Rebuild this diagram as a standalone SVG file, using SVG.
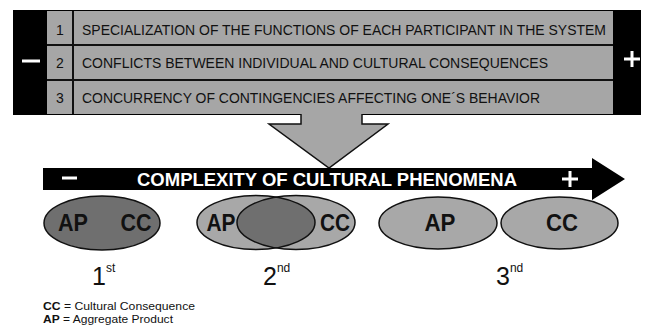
<svg xmlns="http://www.w3.org/2000/svg" width="647" height="325" viewBox="0 0 647 325">
<style>
.row{font-family:"Liberation Sans",Arial,sans-serif;font-size:13.9px;fill:#111}
.num{font-family:"Liberation Sans",Arial,sans-serif;font-size:14px;fill:#111;text-anchor:middle}
.lbl{font-family:"Liberation Sans",Arial,sans-serif;font-weight:bold;font-size:23px;fill:#111;text-anchor:middle}
.ord{font-family:"Liberation Sans",Arial,sans-serif;font-size:25px;fill:#111}
.sup{font-size:12px}
.leg{font-family:"Liberation Sans",Arial,sans-serif;font-size:11px;fill:#111}
.light{fill:#a8a8a8;stroke:#111;stroke-width:1.5}
.dark{fill:#6f6f6f;stroke:#111;stroke-width:1.5}
.sign{stroke:#fff;stroke-width:3;fill:none}
</style>
<defs>
<clipPath id="clipL"><ellipse cx="256" cy="222.5" rx="59" ry="27"/></clipPath>
</defs>
<rect width="647" height="325" fill="#fff"/>
<g id="panel">
<rect x="13" y="10" width="628" height="105" fill="#000"/>
<rect x="47" y="11" width="566" height="103" fill="#a6a6a6"/>
<line x1="47" y1="45" x2="613" y2="45" stroke="#111" stroke-width="2"/>
<line x1="47" y1="80" x2="613" y2="80" stroke="#111" stroke-width="2"/>
<line x1="73" y1="11" x2="73" y2="114" stroke="#111" stroke-width="2"/>
<text class="num" x="60" y="35">1</text>
<text class="num" x="60" y="68">2</text>
<text class="num" x="60" y="103">3</text>
<text class="row" x="82" y="35" textLength="524" lengthAdjust="spacingAndGlyphs">SPECIALIZATION OF THE FUNCTIONS OF EACH PARTICIPANT IN THE SYSTEM</text>
<text class="row" x="82" y="68" textLength="466" lengthAdjust="spacingAndGlyphs">CONFLICTS BETWEEN INDIVIDUAL AND CULTURAL CONSEQUENCES</text>
<text class="row" x="82" y="103" textLength="458" lengthAdjust="spacingAndGlyphs">CONCURRENCY OF CONTINGENCIES AFFECTING ONE´S BEHAVIOR</text>
<line class="sign" x1="22" y1="61" x2="40" y2="61"/>
<path class="sign" d="M624 59H640M632 51V67"/>
</g>
<g id="connectors">
<polygon points="301,112 362,112 362,124 388,124 329,168 269,124 301,124" fill="#a6a6a6" stroke="none"/>
<polyline points="301,114 301,124 269,124 329,168 388,124 362,124 362,114" fill="none" stroke="#111" stroke-width="1.5"/>
</g>
<g id="axis">
<polygon points="43,168 592,168 592,158 625,179 592,200 592,190 43,190" fill="#000"/>
<line class="sign" x1="62" y1="178" x2="77" y2="178"/>
<path class="sign" d="M562 179H578M570 171V187"/>
<text x="327" y="186" text-anchor="middle" font-family="Liberation Sans,Arial,sans-serif" font-weight="bold" font-size="18.5" fill="#fff" textLength="380" lengthAdjust="spacingAndGlyphs">COMPLEXITY OF CULTURAL PHENOMENA</text>
</g>
<g id="stage1">
<ellipse class="dark" cx="102" cy="223" rx="58" ry="27"/>
<text class="lbl" x="73" y="231" textLength="30" lengthAdjust="spacingAndGlyphs">AP</text>
<text class="lbl" x="136" y="231" textLength="31" lengthAdjust="spacingAndGlyphs">CC</text>
<text class="ord" x="92" y="285">1<tspan class="sup" dy="-13">st</tspan></text>
</g>
<g id="stage2">
<ellipse cx="256" cy="222.5" rx="59" ry="27" fill="#a8a8a8"/>
<ellipse cx="296" cy="222.5" rx="59" ry="27" fill="#a8a8a8"/>
<ellipse cx="296" cy="222.5" rx="59" ry="27" fill="#6f6f6f" clip-path="url(#clipL)"/>
<ellipse cx="256" cy="222.5" rx="59" ry="27" fill="none" stroke="#111" stroke-width="1.5"/>
<ellipse cx="296" cy="222.5" rx="59" ry="27" fill="none" stroke="#111" stroke-width="1.5"/>
<text class="lbl" x="221" y="231" textLength="29" lengthAdjust="spacingAndGlyphs">AP</text>
<text class="lbl" x="335" y="231" textLength="30" lengthAdjust="spacingAndGlyphs">CC</text>
<text class="ord" x="263" y="285">2<tspan class="sup" dy="-13">nd</tspan></text>
</g>
<g id="stage3">
<ellipse class="light" cx="438" cy="223" rx="59" ry="26"/>
<ellipse class="light" cx="559.5" cy="223" rx="58.5" ry="26"/>
<text class="lbl" x="440" y="231" textLength="31" lengthAdjust="spacingAndGlyphs">AP</text>
<text class="lbl" x="562" y="231" textLength="32" lengthAdjust="spacingAndGlyphs">CC</text>
<text class="ord" x="496" y="285">3<tspan class="sup" dy="-13">nd</tspan></text>
</g>
<g id="legend">
<text class="leg" x="43" y="310" textLength="152" lengthAdjust="spacingAndGlyphs"><tspan font-weight="bold">CC</tspan> = Cultural Consequence</text>
<text class="leg" x="43" y="322.5" textLength="130" lengthAdjust="spacingAndGlyphs"><tspan font-weight="bold">AP</tspan> = Aggregate Product</text>
</g>
</svg>
